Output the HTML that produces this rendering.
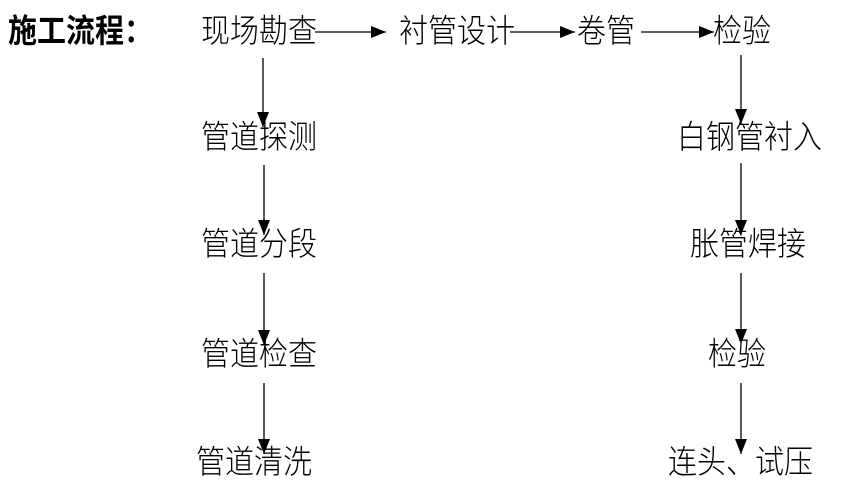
<!DOCTYPE html>
<html><head><meta charset="utf-8"><style>
body{margin:0;width:857px;height:495px;background:#fff;position:relative;overflow:hidden;font-family:"Liberation Sans","Noto Sans CJK SC",sans-serif;}
.t{position:absolute;font-size:29px;line-height:36px;color:#000;white-space:nowrap;transform:scaleY(1.12);transform-origin:left center;font-weight:300;}
svg{position:absolute;left:0;top:0;}
</style></head><body>
<div class="t" style="left:8px;top:14px;font-weight:bold;">施工流程：</div>
<div class="t" style="left:201px;top:14px;">现场勘查</div>
<div class="t" style="left:399px;top:14px;">衬管设计</div>
<div class="t" style="left:577px;top:14px;">卷管</div>
<div class="t" style="left:713px;top:14px;">检验</div>
<div class="t" style="left:201px;top:120px;">管道探测</div>
<div class="t" style="left:201px;top:227px;">管道分段</div>
<div class="t" style="left:201px;top:337px;">管道检查</div>
<div class="t" style="left:196px;top:445px;">管道清洗</div>
<div class="t" style="left:677px;top:120px;">白钢管衬入</div>
<div class="t" style="left:690px;top:227px;">胀管焊接</div>
<div class="t" style="left:708px;top:337px;">检验</div>
<div class="t" style="left:668px;top:445px;">连头、试压</div>
<svg width="857" height="495">
<defs>
<marker id="b" markerWidth="15" markerHeight="12" refX="15" refY="6" orient="auto" markerUnits="userSpaceOnUse"><path d="M0,0L15,6L0,12z" fill="#000"/></marker></defs>
<g stroke="#000" stroke-width="1.3" fill="none">
<line x1="315" y1="32" x2="386" y2="32" marker-end="url(#b)"/>
<line x1="510" y1="32" x2="575" y2="32" marker-end="url(#b)"/>
<line x1="641" y1="32" x2="714" y2="32" marker-end="url(#b)"/>
<line x1="263" y1="58" x2="263" y2="127" marker-end="url(#b)"/>
<line x1="264" y1="165" x2="264" y2="235" marker-end="url(#b)"/>
<line x1="264" y1="273" x2="264" y2="345" marker-end="url(#b)"/>
<line x1="264" y1="383" x2="264" y2="454" marker-end="url(#b)"/>
<line x1="741" y1="55" x2="741" y2="124" marker-end="url(#b)"/>
<line x1="741" y1="163" x2="741" y2="235" marker-end="url(#b)"/>
<line x1="741" y1="273" x2="741" y2="344" marker-end="url(#b)"/>
<line x1="741" y1="383" x2="741" y2="454" marker-end="url(#b)"/>
</g></svg>
</body></html>
